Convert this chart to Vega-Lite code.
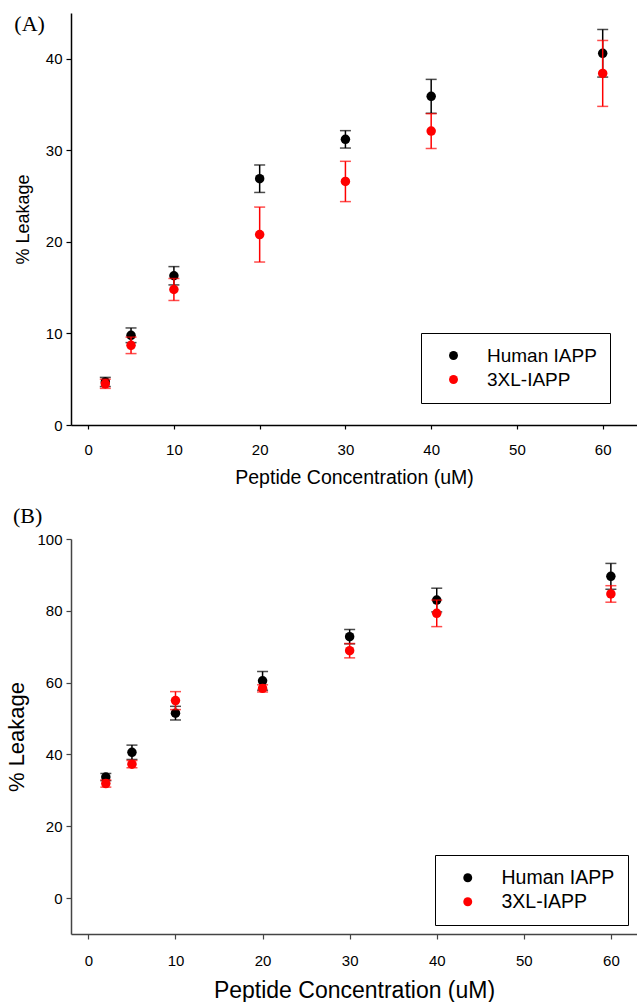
{
  "$schema": "https://vega.github.io/schema/vega-lite/v6.json",
  "padding": {"left": 5, "top": 13, "right": 0, "bottom": 0},
  "spacing": 18,
  "config": {
    "view": {"stroke": null},
    "font": "Liberation Sans",
    "axis": {
      "grid": false,
      "labelFont": "Liberation Sans",
      "titleFont": "Liberation Sans",
      "titleFontWeight": "normal",
      "labelColor": "black",
      "titleColor": "black",
      "domainColor": "black",
      "tickColor": "black",
      "domainWidth": 1.5,
      "tickWidth": 1.2,
      "labelFontSize": 15
    },
    "legend": {
      "orient": "none",
      "title": null,
      "strokeColor": "black",
      "strokeWidth": 1,
      "padding": 13,
      "symbolOffset": 10,
      "labelOffset": 24,
      "labelFont": "Liberation Sans",
      "labelColor": "black",
      "symbolSize": 80,
      "symbolType": "circle",
      "symbolStrokeWidth": 0,
      "symbolOpacity": 1
    },
    "title": {
      "font": "Liberation Serif",
      "fontSize": 22,
      "fontWeight": "normal",
      "anchor": "start",
      "frame": "bounds",
      "color": "black"
    }
  },
  "datasets": {
    "leak": [
      {"panel": "A", "conc": 2, "series": "Human IAPP", "mean": 4.7, "err": 0.5},
      {"panel": "A", "conc": 5, "series": "Human IAPP", "mean": 9.8, "err": 0.8},
      {"panel": "A", "conc": 10, "series": "Human IAPP", "mean": 16.3, "err": 1.0},
      {"panel": "A", "conc": 20, "series": "Human IAPP", "mean": 26.9, "err": 1.5},
      {"panel": "A", "conc": 30, "series": "Human IAPP", "mean": 31.2, "err": 0.95},
      {"panel": "A", "conc": 40, "series": "Human IAPP", "mean": 35.9, "err": 1.85},
      {"panel": "A", "conc": 60, "series": "Human IAPP", "mean": 40.6, "err": 2.6},
      {"panel": "A", "conc": 2, "series": "3XL-IAPP", "mean": 4.5, "err": 0.5},
      {"panel": "A", "conc": 5, "series": "3XL-IAPP", "mean": 8.7, "err": 0.9},
      {"panel": "A", "conc": 10, "series": "3XL-IAPP", "mean": 14.8, "err": 1.2},
      {"panel": "A", "conc": 20, "series": "3XL-IAPP", "mean": 20.8, "err": 3.0},
      {"panel": "A", "conc": 30, "series": "3XL-IAPP", "mean": 26.6, "err": 2.2},
      {"panel": "A", "conc": 40, "series": "3XL-IAPP", "mean": 32.1, "err": 1.9},
      {"panel": "A", "conc": 60, "series": "3XL-IAPP", "mean": 38.4, "err": 3.6},
      {"panel": "B", "conc": 2, "series": "Human IAPP", "mean": 33.7, "err": 1.0},
      {"panel": "B", "conc": 5, "series": "Human IAPP", "mean": 40.6, "err": 2.0},
      {"panel": "B", "conc": 10, "series": "Human IAPP", "mean": 51.5, "err": 1.9},
      {"panel": "B", "conc": 20, "series": "Human IAPP", "mean": 60.5, "err": 2.6},
      {"panel": "B", "conc": 30, "series": "Human IAPP", "mean": 72.8, "err": 2.0},
      {"panel": "B", "conc": 40, "series": "Human IAPP", "mean": 83.0, "err": 3.3},
      {"panel": "B", "conc": 60, "series": "Human IAPP", "mean": 89.6, "err": 3.6},
      {"panel": "B", "conc": 2, "series": "3XL-IAPP", "mean": 31.9, "err": 1.0},
      {"panel": "B", "conc": 5, "series": "3XL-IAPP", "mean": 37.3, "err": 1.0},
      {"panel": "B", "conc": 10, "series": "3XL-IAPP", "mean": 55.0, "err": 2.5},
      {"panel": "B", "conc": 20, "series": "3XL-IAPP", "mean": 58.4, "err": 1.0},
      {"panel": "B", "conc": 30, "series": "3XL-IAPP", "mean": 68.9, "err": 2.0},
      {"panel": "B", "conc": 40, "series": "3XL-IAPP", "mean": 79.3, "err": 3.7},
      {"panel": "B", "conc": 60, "series": "3XL-IAPP", "mean": 84.7, "err": 2.3}
    ]
  },
  "vconcat": [
    {
      "title": {"text": "(A)", "dx": 0, "dy": 27},
      "width": 566,
      "height": 412,
      "data": {"name": "leak"},
      "transform": [{"filter": "datum.panel == 'A'"}],
      "encoding": {
        "x": {
          "field": "conc", "type": "quantitative",
          "scale": {"domain": [-2, 64], "nice": false, "zero": false},
          "axis": {"values": [0, 10, 20, 30, 40, 50, 60], "title": "Peptide Concentration (uM)", "titleFontSize": 19.5, "tickSize": 4, "labelPadding": 13, "titlePadding": 11}
        },
        "y": {
          "field": "mean", "type": "quantitative",
          "scale": {"domain": [0, 45], "nice": false},
          "axis": {"values": [0, 10, 20, 30, 40], "title": "% Leakage", "titleFontSize": 18, "tickSize": 5, "labelPadding": 4, "titlePadding": 13}
        },
        "color": {
          "field": "series", "type": "nominal",
          "scale": {"domain": ["Human IAPP", "3XL-IAPP"], "range": ["black", "red"]},
          "legend": {"legendX": 350, "legendY": 320, "labelFontSize": 19, "rowPadding": 4}
        }
      },
      "layer": [
        {
          "transform": [{"filter": "datum.series == 'Human IAPP'"}],
          "mark": {"type": "errorbar", "ticks": {"size": 11}, "thickness": 1.5},
          "encoding": {"yError": {"field": "err"}}
        },
        {
          "transform": [{"filter": "datum.series == 'Human IAPP'"}],
          "mark": {"type": "point", "filled": true, "size": 90, "opacity": 1}
        },
        {
          "transform": [{"filter": "datum.series == '3XL-IAPP'"}],
          "mark": {"type": "errorbar", "ticks": {"size": 11}, "thickness": 1.5},
          "encoding": {"yError": {"field": "err"}}
        },
        {
          "transform": [{"filter": "datum.series == '3XL-IAPP'"}],
          "mark": {"type": "point", "filled": true, "size": 90, "opacity": 1}
        }
      ]
    },
    {
      "title": {"text": "(B)", "dx": 7, "offset": 4},
      "width": 566,
      "height": 395,
      "data": {"name": "leak"},
      "transform": [{"filter": "datum.panel == 'B'"}],
      "encoding": {
        "x": {
          "field": "conc", "type": "quantitative",
          "scale": {"domain": [-2, 63], "nice": false, "zero": false},
          "axis": {"values": [0, 10, 20, 30, 40, 50, 60], "title": "Peptide Concentration (uM)", "titleFontSize": 23, "tickSize": 5, "labelPadding": 14, "titlePadding": 11, "domainColor": "#444", "tickColor": "#444"}
        },
        "y": {
          "field": "mean", "type": "quantitative",
          "scale": {"domain": [-10, 100], "nice": false, "zero": false},
          "axis": {"values": [0, 20, 40, 60, 80, 100], "title": "% Leakage", "titleFontSize": 22, "tickSize": 5, "labelPadding": 4, "titlePadding": 8, "domainColor": "#444", "tickColor": "#444"}
        },
        "color": {
          "field": "series", "type": "nominal",
          "scale": {"domain": ["Human IAPP", "3XL-IAPP"], "range": ["black", "red"]},
          "legend": {"legendX": 364, "legendY": 316, "labelFontSize": 19.5, "rowPadding": 3}
        }
      },
      "layer": [
        {
          "transform": [{"filter": "datum.series == 'Human IAPP'"}],
          "mark": {"type": "errorbar", "ticks": {"size": 11}, "thickness": 1.5},
          "encoding": {"yError": {"field": "err"}}
        },
        {
          "transform": [{"filter": "datum.series == 'Human IAPP'"}],
          "mark": {"type": "point", "filled": true, "size": 90, "opacity": 1}
        },
        {
          "transform": [{"filter": "datum.series == '3XL-IAPP'"}],
          "mark": {"type": "errorbar", "ticks": {"size": 11}, "thickness": 1.5},
          "encoding": {"yError": {"field": "err"}}
        },
        {
          "transform": [{"filter": "datum.series == '3XL-IAPP'"}],
          "mark": {"type": "point", "filled": true, "size": 90, "opacity": 1}
        }
      ]
    }
  ],
  "resolve": {"scale": {"color": "independent", "x": "independent", "y": "independent"}, "legend": {"color": "independent"}}
}
